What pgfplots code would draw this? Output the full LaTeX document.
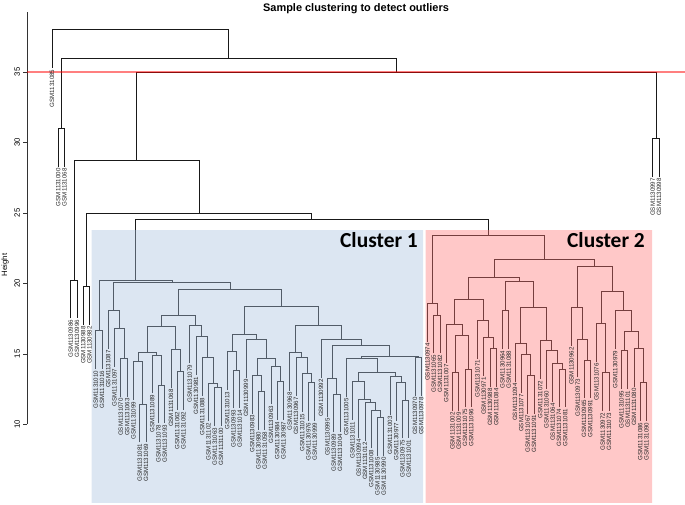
\documentclass[border=0pt]{standalone}
\usepackage{fontspec}
\setmainfont{Liberation Sans}
\newfontfamily\carlito{Carlito}
\usepackage{pgfplots}
\usepackage{pgfplotstable}
\pgfplotsset{compat=1.18}
\definecolor{dendro}{RGB}{25,25,25}
\definecolor{cblue}{RGB}{168,193,223}
\definecolor{cpink}{RGB}{255,118,118}

\pgfplotstableread{
x y
2 28.28
2 31
3 31
3 28.28
nan nan
4 17.53
4 20.25
5 20.25
5 17.53
nan nan
6 17.08
6 19.8
7 19.8
7 17.08
nan nan
8 13.93
8 16.65
9 16.65
9 13.93
nan nan
12 11.98
12 14.7
13 14.7
13 11.98
nan nan
11 14.08
11 16.8
12.5 16.8
12.5 14.7
nan nan
10 15.38
10 18.1
11.75 18.1
11.75 16.8
nan nan
15 8.73
15 11.45
16 11.45
16 8.73
nan nan
14 11.73
14 14.45
15.5 14.45
15.5 11.45
nan nan
18 10.08
18 12.8
19 12.8
19 10.08
nan nan
17 12.21
17 14.93
18.5 14.93
18.5 12.8
nan nan
14.75 14.45
14.75 15.1
17.75 15.1
17.75 14.93
nan nan
21 11.03
21 13.75
22 13.75
22 11.03
nan nan
20 12.61
20 15.33
21.5 15.33
21.5 13.75
nan nan
16.25 15.1
16.25 16.94
20.75 16.94
20.75 15.33
nan nan
27 9.88
27 12.6
28 12.6
28 9.88
nan nan
26 10.23
26 12.95
27.5 12.95
27.5 12.6
nan nan
25 12.02
25 14.74
26.75 14.74
26.75 12.95
nan nan
24 13.51
24 16.23
25.875 16.23
25.875 14.74
nan nan
23 14.34
23 17.06
24.9375 17.06
24.9375 16.23
nan nan
18.5 16.94
18.5 17.72
23.96875 17.72
23.96875 17.06
nan nan
30 11.15
30 13.87
31 13.87
31 11.15
nan nan
29 12.44
29 15.16
30.5 15.16
30.5 13.87
nan nan
34 9.61
34 12.33
35 12.33
35 9.61
nan nan
33 10.78
33 13.5
34.5 13.5
34.5 12.33
nan nan
37 10.32
37 13.04
38 13.04
38 10.32
nan nan
36 11.43
36 14.15
37.5 14.15
37.5 13.04
nan nan
33.75 13.5
33.75 14.7
36.75 14.7
36.75 14.15
nan nan
32 13.32
32 16.04
35.25 16.04
35.25 14.7
nan nan
29.75 15.16
29.75 16.4
33.625 16.4
33.625 16.04
nan nan
42 10.25
42 12.97
43 12.97
43 10.25
nan nan
41 10.88
41 13.6
42.5 13.6
42.5 12.97
nan nan
40 12.05
40 14.77
41.75 14.77
41.75 13.6
nan nan
39 12.38
39 15.1
40.875 15.1
40.875 14.77
nan nan
46 9.44
46 12.16
47 12.16
47 9.44
nan nan
45 10.56
45 13.28
46.5 13.28
46.5 12.16
nan nan
53 7.78
53 10.5
54 10.5
54 7.78
nan nan
52 8.31
52 11.03
53.5 11.03
53.5 10.5
nan nan
51 8.85
51 11.57
52.75 11.57
52.75 11.03
nan nan
50 9.07
50 11.79
51.875 11.79
51.875 11.57
nan nan
49 10.32
49 13.04
50.9375 13.04
50.9375 11.79
nan nan
57 9.02
57 11.74
58 11.74
58 9.02
nan nan
56 10.25
56 12.97
57.5 12.97
57.5 11.74
nan nan
55 10.68
55 13.4
56.75 13.4
56.75 12.97
nan nan
49.96875 13.04
49.96875 13.7
55.875 13.7
55.875 13.4
nan nan
48 11.98
48 14.7
52.921875 14.7
52.921875 13.7
nan nan
59 12.05
59 14.77
60 14.77
60 12.05
nan nan
50.4609 14.7
50.4609 14.86
59.5 14.86
59.5 14.77
nan nan
45.75 13.28
45.75 15.64
54.9805 15.64
54.9805 14.86
nan nan
44 13.32
44 16.04
50.3652 16.04
50.3652 15.64
nan nan
39.9375 15.1
39.9375 17.06
47.1826 17.06
47.1826 16.04
nan nan
31.6875 16.4
31.6875 18.4
43.5601 18.4
43.5601 17.06
nan nan
21.2344 17.72
21.2344 19.55
37.6238 19.55
37.6238 18.4
nan nan
10.875 18.1
10.875 20.05
29.4291 20.05
29.4291 19.55
nan nan
8.5 16.65
8.5 20.2
20.152 20.2
20.152 20.05
nan nan
62 15.05
62 17.77
63 17.77
63 15.05
nan nan
61 15.88
61 18.6
62.5 18.6
62.5 17.77
nan nan
65 10.98
65 13.7
66 13.7
66 10.98
nan nan
67 11.22
67 13.94
68 13.94
68 11.22
nan nan
65.5 13.7
65.5 16.3
67.5 16.3
67.5 13.94
nan nan
64 14.38
64 17.1
66.5 17.1
66.5 16.3
nan nan
71 12.68
71 15.4
72 15.4
72 12.68
nan nan
70 13.46
70 16.18
71.5 16.18
71.5 15.4
nan nan
69 14.68
69 17.4
70.75 17.4
70.75 16.18
nan nan
65.25 17.1
65.25 18.89
69.875 18.89
69.875 17.4
nan nan
73 15.35
73 18.07
74 18.07
74 15.35
nan nan
77 10.78
77 13.5
78 13.5
78 10.78
nan nan
76 12.26
76 14.98
77.5 14.98
77.5 13.5
nan nan
75 13.04
75 15.76
76.75 15.76
76.75 14.98
nan nan
82 11.22
82 13.94
83 13.94
83 11.22
nan nan
81 11.62
81 14.34
82.5 14.34
82.5 13.94
nan nan
80 12.51
80 15.23
81.75 15.23
81.75 14.34
nan nan
79 13.23
79 15.95
80.875 15.95
80.875 15.23
nan nan
75.875 15.76
75.875 18.29
79.9375 18.29
79.9375 15.95
nan nan
73.5 18.07
73.5 20.13
77.90625 20.13
77.90625 18.29
nan nan
67.5625 18.89
67.5625 20.44
75.7031 20.44
75.7031 20.13
nan nan
86 11.85
86 14.57
87 14.57
87 11.85
nan nan
85 13.34
85 16.06
86.5 16.06
86.5 14.57
nan nan
84 15.59
84 18.31
85.75 18.31
85.75 16.06
nan nan
89 10.95
89 13.67
90 13.67
90 10.95
nan nan
88 14.46
88 17.18
89.5 17.18
89.5 13.67
nan nan
92 12.51
92 15.23
93 15.23
93 12.51
nan nan
95 10.25
95 12.97
96 12.97
96 10.25
nan nan
94 12.68
94 15.4
95.5 15.4
95.5 12.97
nan nan
92.5 15.23
92.5 16.58
94.75 16.58
94.75 15.4
nan nan
91 15.35
91 18.07
93.625 18.07
93.625 16.58
nan nan
88.75 17.18
88.75 19.42
92.3125 19.42
92.3125 18.07
nan nan
84.875 18.31
84.875 21.2
90.5313 21.2
90.5313 19.42
nan nan
71.6328 20.44
71.6328 21.7
87.7031 21.7
87.7031 21.2
nan nan
61.75 18.6
61.75 23.4
79.668 23.4
79.668 21.7
nan nan
14.326 20.2
14.326 24.55
70.709 24.55
70.709 23.4
nan nan
6.5 19.8
6.5 25.0
42.5175 25.0
42.5175 24.55
nan nan
4.5 20.25
4.5 28.75
24.5088 28.75
24.5088 25.0
nan nan
97 27.58
97 30.3
98 30.3
98 27.58
nan nan
14.5044 28.75
14.5044 35.0
97.5 35.0
97.5 30.3
nan nan
2.5 31.0
2.5 36.0
56.0022 36.0
56.0022 35.0
nan nan
1 35.28
1 38.0
29.2511 38.0
29.2511 36.0
}\segtable

\pgfplotstableread{
x y label
1 35.18 GSM1131085
2 28.18 GSM1131000
3 28.18 GSM1131068
4 17.43 GSM1130986
5 17.43 GSM1130996
6 16.98 GSM1130988
7 16.98 GSM1130982
8 13.83 GSM1131010
9 13.83 GSM1131016
10 15.28 GSM1131087
11 13.98 GSM1131097
12 11.88 GSM1131070
13 11.88 GSM1131063
14 11.63 GSM1131099
15 8.63 GSM1131081
16 8.63 GSM1131069
17 12.11 GSM1131089
18 9.98 GSM1131078
19 9.98 GSM1131093
20 12.51 GSM1131068
21 10.93 GSM1131062
22 10.93 GSM1131092
23 14.24 GSM1131079
24 13.41 GSM1130981
25 11.92 GSM1131088
26 10.13 GSM1131102
27 9.78 GSM1131063
28 9.78 GSM1131100
29 12.34 GSM1131013
30 11.05 GSM1130993
31 11.05 GSM1131014
32 13.22 GSM1130999
33 10.68 GSM1130983
34 9.51 GSM1130980
35 9.51 GSM1131058
36 11.33 GSM1130963
37 10.22 GSM1130984
38 10.22 GSM1130987
39 12.28 GSM1130968
40 11.95 GSM1130967
41 10.78 GSM1131015
42 10.15 GSM1130976
43 10.15 GSM1130999
44 13.22 GSM1130992
45 10.46 GSM1130995
46 9.34 GSM1130989
47 9.34 GSM1131004
48 11.88 GSM1131005
49 10.22 GSM1131011
50 8.97 GSM1130994
51 8.75 GSM1131012
52 8.21 GSM1131008
53 7.68 GSM1130985
54 7.68 GSM1130990
55 10.58 GSM1131003
56 10.15 GSM1130977
57 8.92 GSM1130975
58 8.92 GSM1131001
59 11.95 GSM1130970
60 11.95 GSM1130978
61 15.78 GSM1130974
62 14.95 GSM1131065
63 14.95 GSM1131082
64 14.28 GSM1131007
65 10.88 GSM1131002
66 10.88 GSM1131009
67 11.12 GSM1131075
68 11.12 GSM1131096
69 14.58 GSM1131071
70 13.36 GSM1130971
71 12.58 GSM1130988
72 12.58 GSM1131084
73 15.25 GSM1130964
74 15.25 GSM1131088
75 12.94 GSM1131094
76 12.16 GSM1131077
77 10.68 GSM1131067
78 10.68 GSM1131091
79 13.13 GSM1131072
80 12.41 GSM1131060
81 11.52 GSM1131064
82 11.12 GSM1131074
83 11.12 GSM1131081
84 15.49 GSM1130962
85 13.24 GSM1130973
86 11.75 GSM1130965
87 11.75 GSM1130991
88 14.36 GSM1131076
89 10.85 GSM1130972
90 10.85 GSM1131073
91 15.25 GSM1130979
92 12.41 GSM1131095
93 12.41 GSM1131101
94 12.58 GSM1131080
95 10.15 GSM1131086
96 10.15 GSM1131090
97 27.48 GSM1130997
98 27.48 GSM1130998
}\leaftable

\begin{document}
\begin{tikzpicture}
\begin{axis}[
  name=ax,
  width=658bp, height=412.5bp, scale only axis,
  xmin=-3, xmax=102.15, ymin=10, ymax=39.255,
  axis x line=none, axis y line*=left,
  clip=false,
  ytick={10,15,20,25,30,35},
  tick align=outside, major tick length=3.5bp,
  y axis line style={black!80, line width=0.6bp},
  ytick style={black!80, line width=0.6bp},
  yticklabel style={rotate=90, anchor=base, font=\fontsize{7.8}{9}\selectfont},
  yticklabel shift=3.5bp,
  /pgf/number format/assume math mode=true,
  ylabel={Height},
  every axis y label/.style={at={(axis description cs:-0.0334,0.3866)}, rotate=90, anchor=center, font=\fontsize{7.8}{9}\selectfont},
  every axis title shift=0pt,
  title={Sample clustering to detect outliers},
  title style={at={(axis description cs:0.5,1.0012)}, anchor=base, font=\bfseries\fontsize{11}{13}\selectfont},
]
\addplot[dendro, line width=0.75bp, unbounded coords=jump, mark=none] table[x=x, y=y] {\segtable};
\addplot[draw=none, mark=none, point meta=explicit symbolic, nodes near coords,
  every node near coord/.append style={rotate=90, anchor=east, inner sep=0pt, font=\fontsize{6.2}{7}\selectfont, text=black!85}]
  table[x=x, y=y, meta=label] {\leaftable};
\addplot[draw=none, fill=cblue, fill opacity=0.4] coordinates {(7.344,4.433) (60.284,4.433) (60.284,23.794) (7.344,23.794) (7.344,4.433)};
\addplot[draw=none, fill=cpink, fill opacity=0.4] coordinates {(60.715,4.433) (96.877,4.433) (96.877,23.794) (60.715,23.794) (60.715,4.433)};
\node[anchor=base east, inner sep=0pt, font=\carlito\bfseries\fontsize{21.5}{24}\selectfont] at (axis cs:59.486,22.553) {Cluster 1};
\node[anchor=base east, inner sep=0pt, font=\carlito\bfseries\fontsize{21.5}{24}\selectfont] at (axis cs:95.758,22.553) {Cluster 2};
\addplot[red, opacity=0.5, line width=1.3bp, mark=none] coordinates {(-3,35) (102.15,35)};
\end{axis}
\pgfresetboundingbox
\path[use as bounding box] ([xshift=-27bp,yshift=-80.5bp]ax.south west) rectangle ([yshift=12bp]ax.north east);
\end{tikzpicture}
\end{document}
